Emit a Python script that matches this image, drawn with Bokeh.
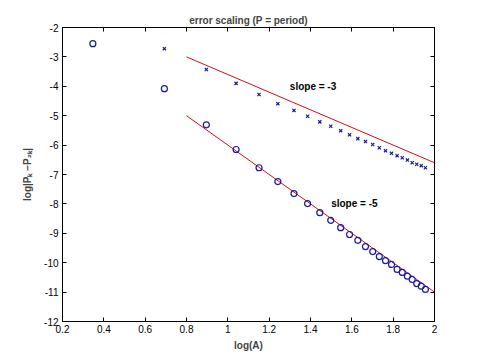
from bokeh.plotting import figure
from bokeh.models import FixedTicker, LinearAxis, Range1d, Label, CustomJSTickFormatter
from bokeh.embed import file_html
from bokeh.resources import INLINE

# circles (series 1)
x_circ = [0.347, 0.693, 0.896, 1.040, 1.151, 1.242, 1.320, 1.386, 1.445, 1.498,
          1.546, 1.589, 1.629, 1.666, 1.701, 1.733, 1.763, 1.792, 1.819, 1.844,
          1.869, 1.892, 1.914, 1.936, 1.956]
y_circ = [-2.55, -4.08, -5.31, -6.15, -6.77, -7.24, -7.65, -7.99, -8.30, -8.56,
          -8.81, -9.04, -9.24, -9.45, -9.62, -9.79, -9.93, -10.06, -10.23, -10.33,
          -10.46, -10.57, -10.71, -10.80, -10.91]

# crosses (series 2)
x_cross = [0.693, 0.896, 1.040, 1.151, 1.242, 1.320, 1.386, 1.445, 1.498,
           1.546, 1.589, 1.629, 1.666, 1.701, 1.733, 1.763, 1.792, 1.819, 1.844,
           1.869, 1.892, 1.914, 1.936, 1.956]
y_cross = [-2.72, -3.43, -3.90, -4.28, -4.59, -4.82, -5.02, -5.21, -5.36,
           -5.51, -5.65, -5.78, -5.88, -5.98, -6.09, -6.19, -6.28, -6.36, -6.43,
           -6.51, -6.60, -6.65, -6.70, -6.77]

# reference slope lines
fit3_x = [0.8, 2.0]
fit3_y = [-3.0, -6.6]
fit5_x = [0.8, 2.0]
fit5_y = [-5.0, -11.0]

x_ticks = [0.2, 0.4, 0.6, 0.8, 1.0, 1.2, 1.4, 1.6, 1.8, 2.0]
x_tick_labels = ["0.2", "0.4", "0.6", "0.8", "1", "1.2", "1.4", "1.6", "1.8", "2"]
y_ticks = [-12, -11, -10, -9, -8, -7, -6, -5, -4, -3, -2]
y_tick_labels = ["-12", "-11", "-10", "-9", "-8", "-7", "-6", "-5", "-4", "-3", "-2"]

FONT = "Liberation Sans"
MARK = "#1a1aa0"
RED = "#d01010"

p = figure(output_backend="svg", toolbar_location=None,
           x_range=Range1d(0.2, 2.0), y_range=Range1d(-12, -2),
           title="error scaling (P = period)",
           frame_width=372, frame_height=294,
           min_border_left=62, min_border_right=38, min_border_top=27, min_border_bottom=28)

p.title.align = "center"
p.title.text_font = FONT
p.title.text_font_size = "10px"
p.title.text_font_style = "bold"
p.title.offset = 0
p.title.standoff = 4

p.xgrid.visible = False
p.ygrid.visible = False
p.outline_line_color = "black"
p.outline_line_width = 1
p.background_fill_color = "white"
p.border_fill_color = "white"

def style_axis(ax):
    ax.minor_tick_line_color = None
    ax.major_tick_in = 4
    ax.major_tick_out = 0
    ax.axis_line_color = "black"
    ax.major_tick_line_color = "black"
    ax.major_label_text_font = FONT
    ax.major_label_text_font_size = "10px"
    ax.major_label_text_color = "black"
    ax.major_label_standoff = 4

xa = p.xaxis[0]
xa.ticker = FixedTicker(ticks=x_ticks)
xa.major_label_overrides = {t: l for t, l in zip(x_ticks, x_tick_labels)}
style_axis(xa)
xa.major_label_standoff = 3
xa.axis_label = "log(A)"
xa.axis_label_text_font = FONT
xa.axis_label_text_font_size = "10px"
xa.axis_label_text_font_style = "bold"
xa.axis_label_standoff = 4

ya = p.yaxis[0]
ya.ticker = FixedTicker(ticks=y_ticks)
ya.major_label_overrides = {t: l for t, l in zip(y_ticks, y_tick_labels)}
style_axis(ya)
ya.axis_label = "log|P\u2096 \u2212P\u2082\u2096|"
ya.axis_label_text_font = FONT
ya.axis_label_text_font_size = "10px"
ya.axis_label_text_font_style = "bold"
ya.axis_label_standoff = 8

# box ticks on the top and right edges, without labels
top = LinearAxis(ticker=FixedTicker(ticks=x_ticks),
                 formatter=CustomJSTickFormatter(code="return ''"))
style_axis(top)
top.major_label_standoff = 0
p.add_layout(top, "above")
right = LinearAxis(ticker=FixedTicker(ticks=y_ticks),
                   formatter=CustomJSTickFormatter(code="return ''"))
style_axis(right)
right.major_label_standoff = 0
p.add_layout(right, "right")

p.line(fit3_x, fit3_y, line_color=RED, line_width=1)
p.line(fit5_x, fit5_y, line_color=RED, line_width=1)
p.scatter(x_circ, y_circ, marker="circle", size=6, fill_color=None, line_color=MARK, line_width=1.2)
p.scatter(x_cross, y_cross, marker="x", size=4.5, line_color=MARK, line_width=1.2)

p.add_layout(Label(x=1.3, y=-4.0, text="slope = -3", text_font=FONT, text_font_size="10px",
                   text_font_style="bold", text_baseline="middle", text_color="black"))
p.add_layout(Label(x=1.5, y=-8.0, text="slope = -5", text_font=FONT, text_font_size="10px",
                   text_font_style="bold", text_baseline="middle", text_color="black"))

open("out.html", "w").write(file_html(p, INLINE))
